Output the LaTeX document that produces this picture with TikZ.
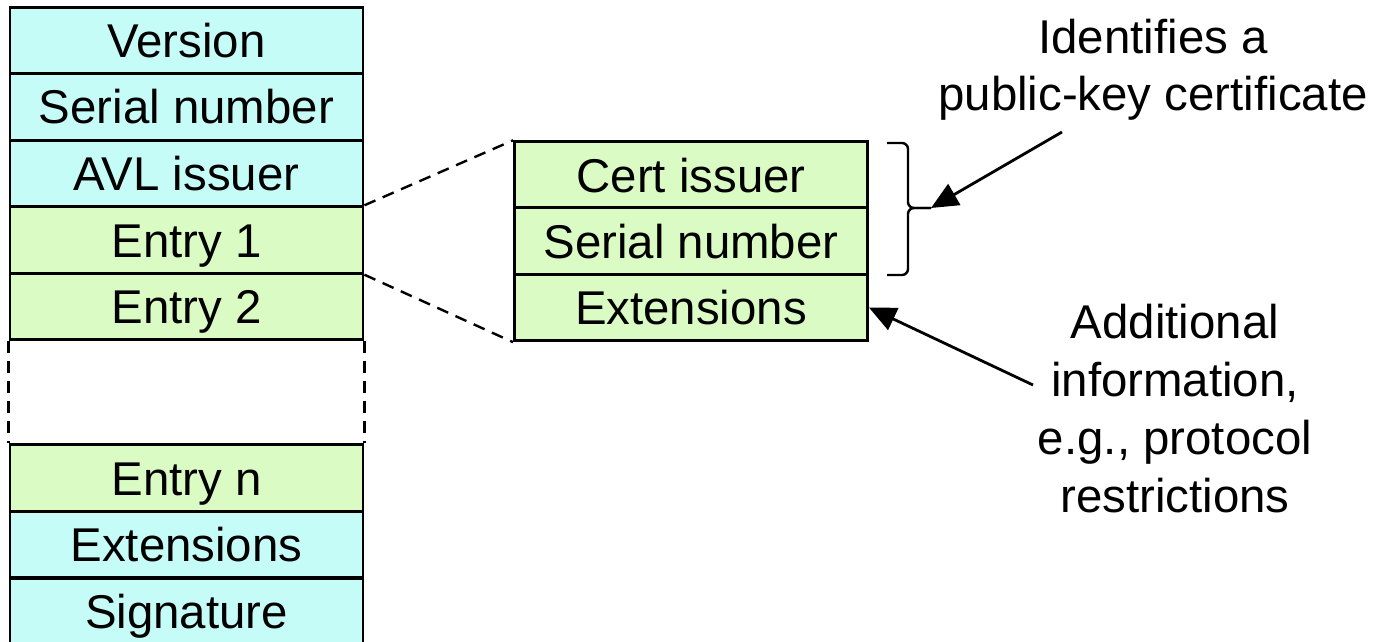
\documentclass[tikz,border=0pt]{standalone}
\usepackage{fontspec}
\setmainfont{Liberation Sans}
\usetikzlibrary{arrows.meta}
\definecolor{cyanfill}{RGB}{198,252,248}
\definecolor{greenfill}{RGB}{218,252,196}
\begin{document}
\begin{tikzpicture}[x=0.5pt,y=-0.5pt,
  every node/.style={font=\fontsize{23.7}{28.5}\selectfont},
  rowbox/.style={draw=black,line width=1.4pt,inner sep=0pt,
    minimum width=176.5pt,minimum height=33.3pt,
    text height=17pt,text depth=0pt},
  cyanrow/.style={rowbox,fill=cyanfill},
  greenrow/.style={rowbox,fill=greenfill},
  zoomline/.style={line width=1.2pt,dash pattern=on 6pt off 4pt},
  callout/.style={line width=1.4pt,-{Triangle[length=13.5pt,width=12pt]}},
  bracestyle/.style={line width=1.2pt,rounded corners=3pt},
  note/.style={align=center,inner sep=0pt,anchor=north}]
\useasboundingbox (0,0) rectangle (1382,642);
\clip (0,0) rectangle (1382,642);
% left column
\node[cyanrow]  (ver)  at (186.5,40.5)  {Version};
\node[cyanrow]  (ser)  at (186.5,107)   {Serial number};
\node[cyanrow]  (avl)  at (186.5,173.5) {AVL issuer};
\node[greenrow] (e1)   at (186.5,240)   {Entry 1};
\node[greenrow] (e2)   at (186.5,306.5) {Entry 2};
\node[greenrow] (en)   at (186.5,478)   {Entry n};
\node[cyanrow]  (ext)  at (186.5,544.5) {Extensions};
\node[cyanrow]  (sig)  at (186.5,611.5) {Signature};
% dashed gap sides
\draw[zoomline] (e2.south west) -- (en.north west);
\draw[zoomline] (e2.south east) -- (en.north east);
% entry detail
\node[greenrow] (ci)   at (691,175)   {Cert issuer};
\node[greenrow] (csn)  at (691,241)   {Serial number};
\node[greenrow] (cext) at (691,307.5) {Extensions};
\draw[zoomline] (e1.north east) -- (ci.north west);
\draw[zoomline] (e1.south east) -- (cext.south west);
% brace
\coordinate (btop) at (887,143);
\coordinate (bbot) at (887,275);
\coordinate (btip) at (931,208);
\draw[bracestyle] (btop) -- (908,143) -- (908,208) -- (btip);
\draw[bracestyle] (bbot) -- (908,275) -- (908,208) -- (btip);
% notes
\node[note] (n1) at (1153,19) {Identifies a\\public-key certificate};
\node[note,font=\fontsize{23.7}{29}\selectfont] (n2) at (1175,304) {Additional\\information,\\e.g., protocol\\restrictions};
\coordinate (n1end) at (1062,132);
\coordinate (n2end) at (1033,385);
\draw[callout] (n1end) -- (btip);
\draw[callout] (n2end) -- (cext.east);
\end{tikzpicture}
\end{document}
